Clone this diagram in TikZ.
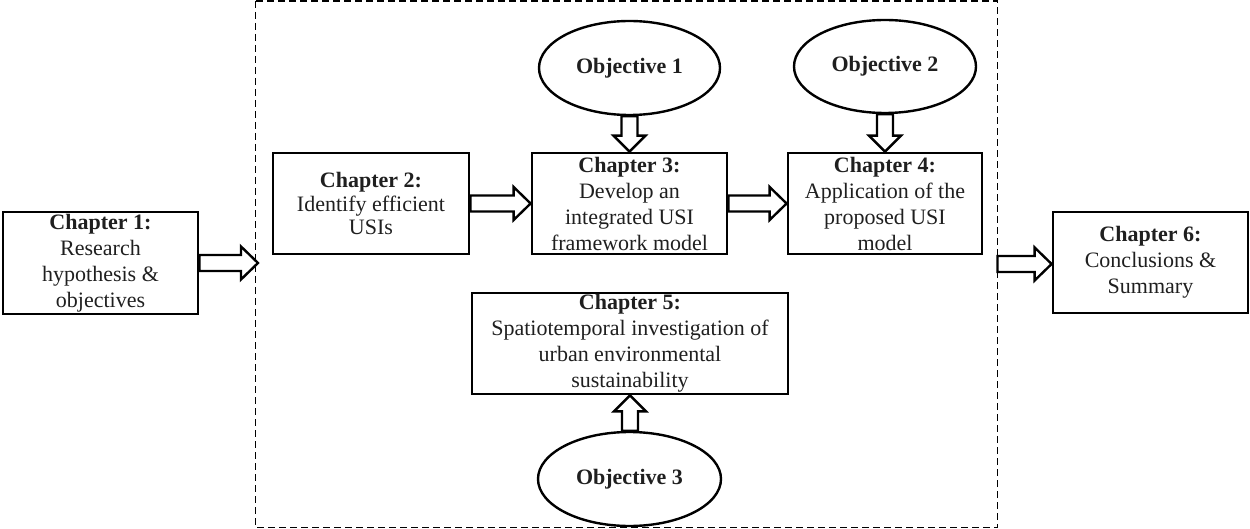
\documentclass[tikz,border=0pt]{standalone}
\usepackage{fontspec}
\setmainfont{Liberation Serif}
\usetikzlibrary{shapes.geometric,calc}
\newcommand\harr[2]{\draw[barrow] let \p1=(#1), \p2=(#2) in (\x1,\y1+8pt) -- (\x2-17pt,\y1+8pt) -- (\x2-17pt,\y1+16.5pt) -- (\x2,\y1) -- (\x2-17pt,\y1-16.5pt) -- (\x2-17pt,\y1-8pt) -- (\x1,\y1-8pt) -- cycle;}
\newcommand\darr[2]{\draw[barrow] let \p1=(#1), \p2=(#2) in (\x2-8pt,\y1) -- (\x2-8pt,\y2+16pt) -- (\x2-16pt,\y2+16pt) -- (\x2,\y2) -- (\x2+16pt,\y2+16pt) -- (\x2+8pt,\y2+16pt) -- (\x2+8pt,\y1) -- cycle;}
\newcommand\uarr[2]{\draw[barrow] let \p1=(#1), \p2=(#2) in (\x2-8pt,\y1) -- (\x2-8pt,\y2-16pt) -- (\x2-16pt,\y2-16pt) -- (\x2,\y2) -- (\x2+16pt,\y2-16pt) -- (\x2+8pt,\y2-16pt) -- (\x2+8pt,\y1) -- cycle;}
\begin{document}
\begin{tikzpicture}[x=1pt,y=-1pt,
 box/.style={draw,line width=2.8pt,rectangle,inner sep=0pt,align=center,text=black!88,font=\fontsize{22}{26}\selectfont},
 obj/.style={draw,line width=2.4pt,ellipse,inner sep=0pt,text=black!88,font=\fontsize{22}{26}\selectfont\bfseries},
 barrow/.style={draw,line width=2.4pt,fill=white,line join=miter},
 frame/.style={draw,line width=1.9pt,dash pattern=on 7pt off 4pt}]
\useasboundingbox (0,0) rectangle (1250,529);
\draw[frame] (255.5,1) rectangle (997.5,527.5);
\coordinate (fl) at (258,263);
\coordinate (fr) at (997.5,264);
\node[box,minimum width=195,minimum height=102] (c1) at (100.5,263) {\textbf{Chapter 1:}\\Research\\hypothesis \&\\objectives};
\node[box,minimum width=196,minimum height=101,font=\fontsize{22}{23.5}\selectfont] (c2) at (371,203.5) {\textbf{Chapter 2:}\\Identify efficient\\USIs};
\node[box,minimum width=195,minimum height=101] (c3) at (629.5,203.5) {\textbf{Chapter 3:}\\Develop an\\integrated USI\\framework model};
\node[box,minimum width=194,minimum height=101] (c4) at (885,203.5) {\textbf{Chapter 4:}\\Application of the\\proposed USI\\model};
\node[box,minimum width=316,minimum height=101] (c5) at (630,343.5) {\textbf{Chapter 5:}\\Spatiotemporal investigation of\\urban environmental\\sustainability};
\node[box,minimum width=195,minimum height=101] (c6) at (1150.5,262.5) {\textbf{Chapter 6:}\\Conclusions \&\\Summary};
\node[obj,minimum width=181,minimum height=94] (o1) at (629.5,68) {Objective 1};
\node[obj,minimum width=182,minimum height=93] (o2) at (885,66.5) {Objective 2};
\node[obj,minimum width=183,minimum height=94] (o3) at (629.5,479) {Objective 3};
\harr{c1.east}{fl}
\harr{c2.east}{c3.west}
\harr{c3.east}{c4.west}
\harr{fr}{c6.west}
\darr{o1.south}{c3.north}
\darr{o2.south}{c4.north}
\uarr{o3.north}{c5.south}
\end{tikzpicture}
\end{document}
